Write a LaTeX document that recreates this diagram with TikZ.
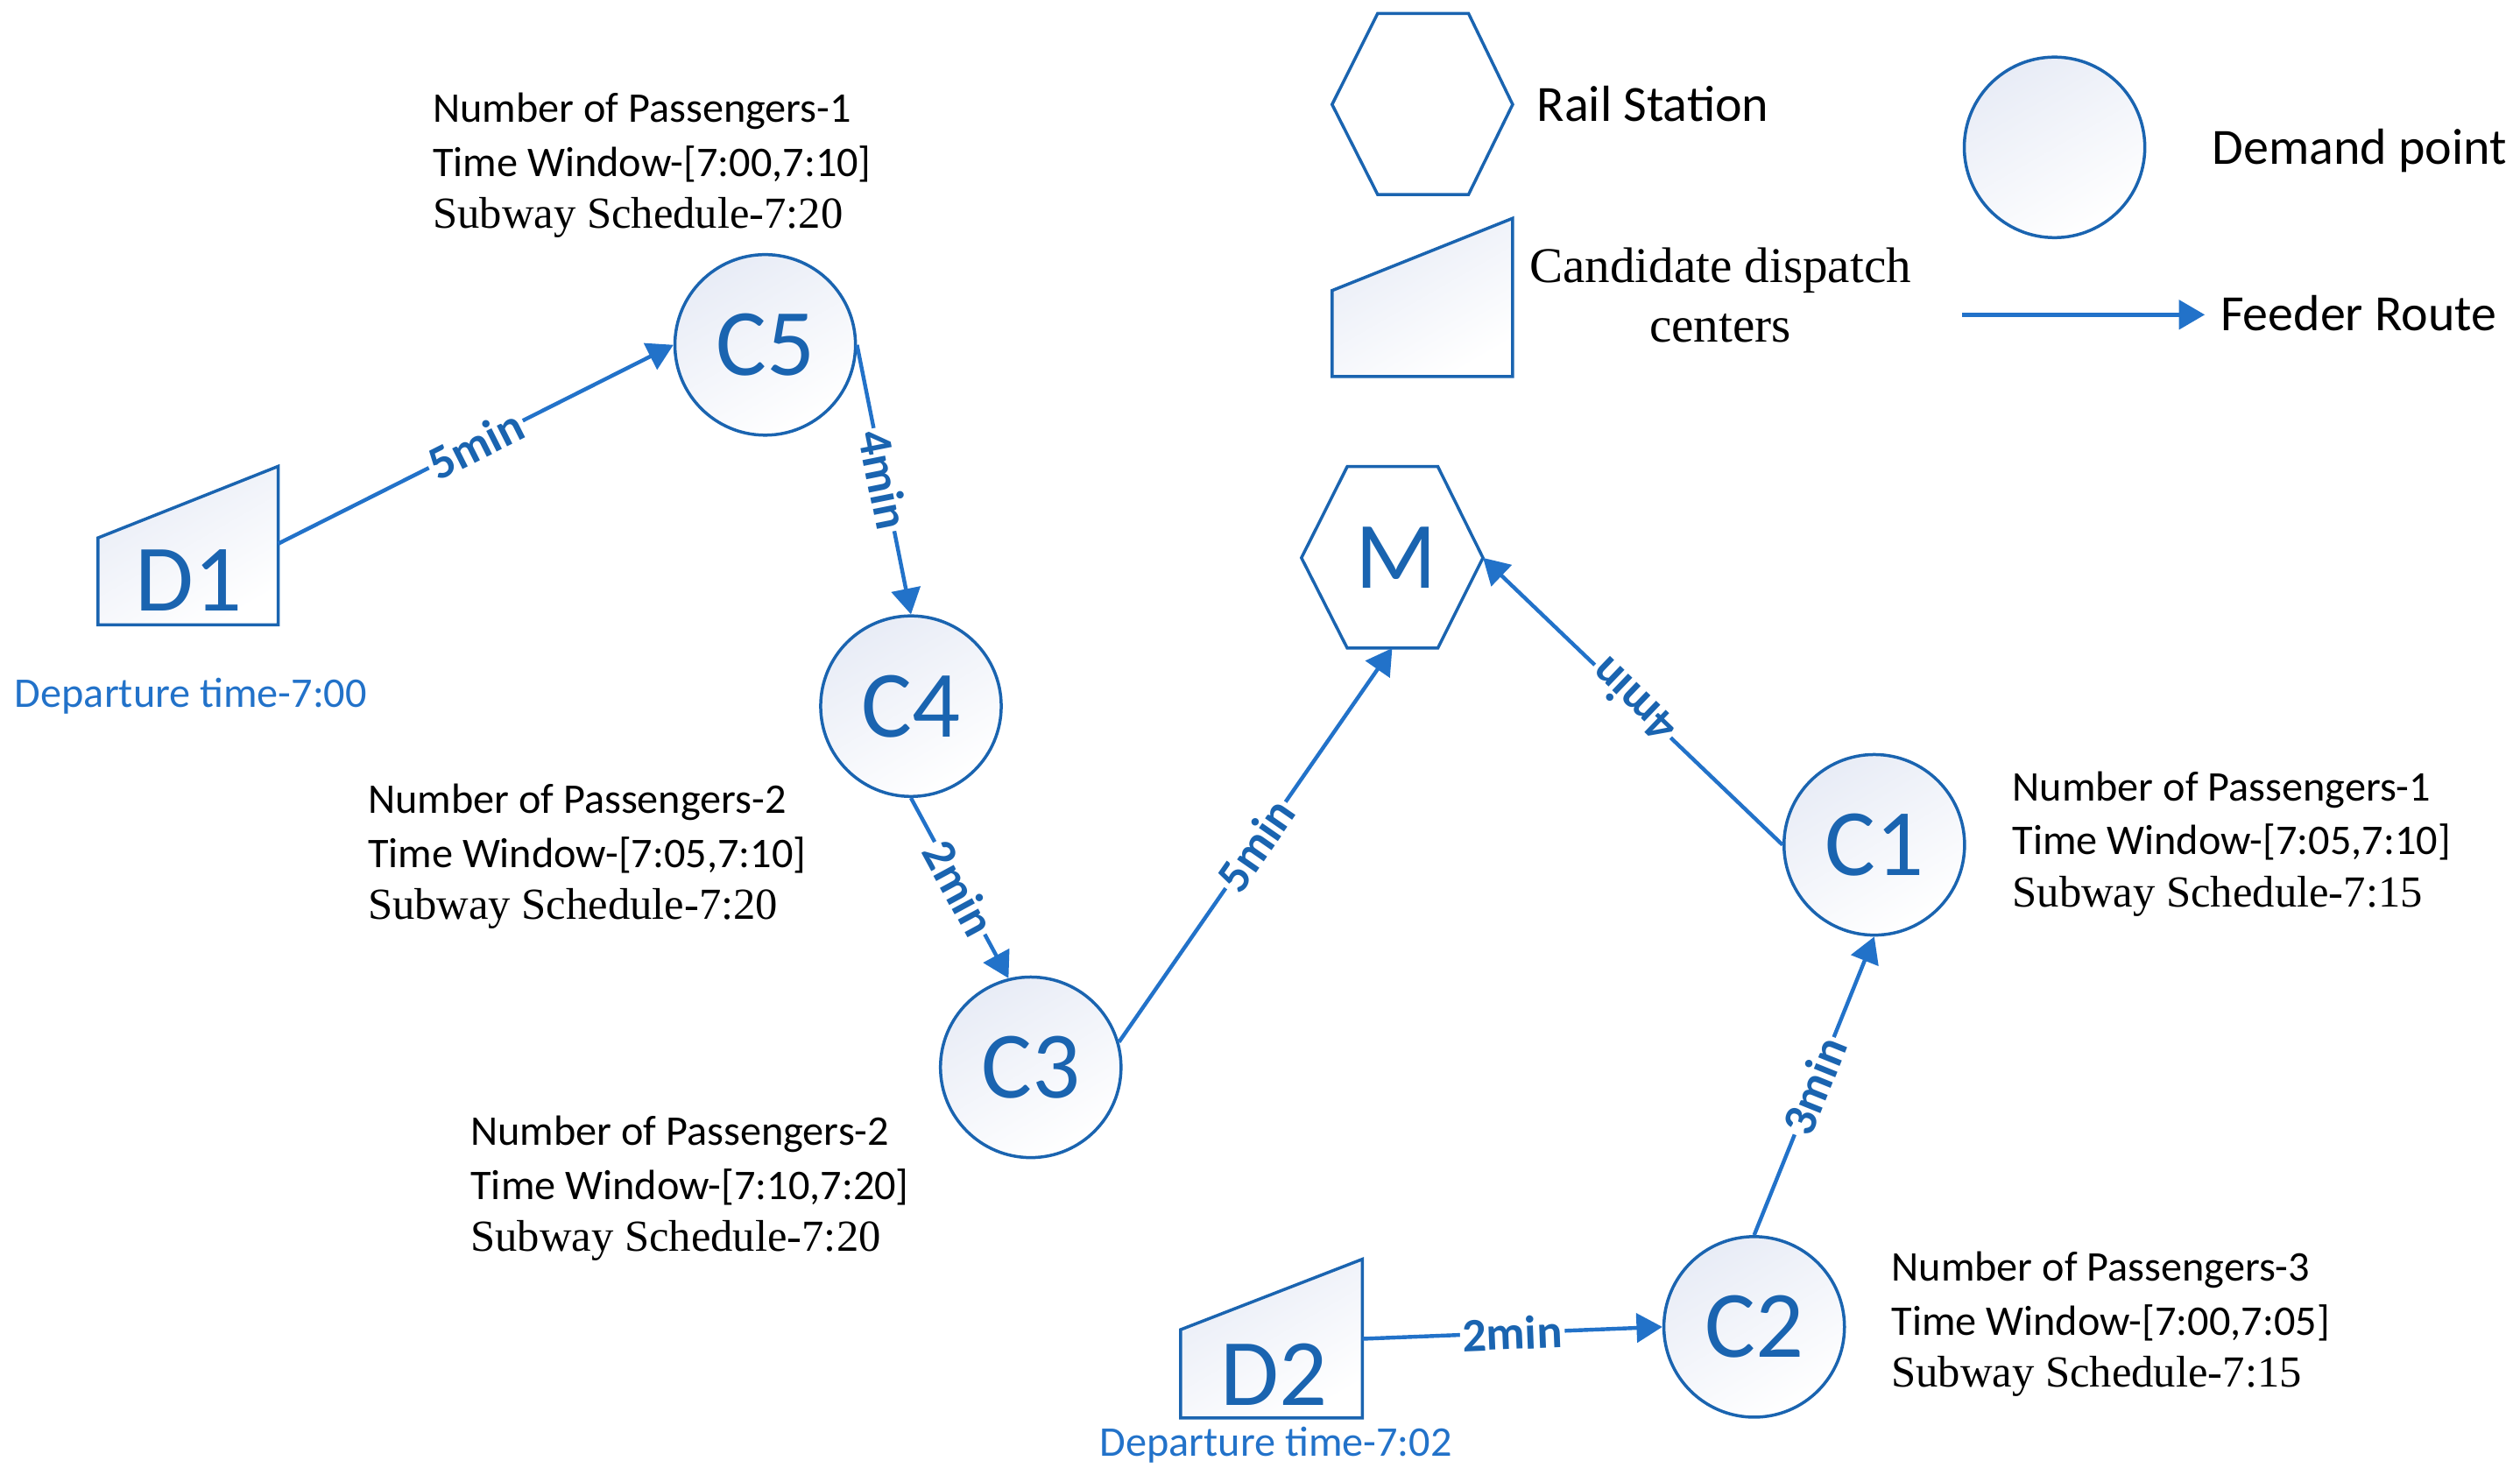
\documentclass[tikz,border=0pt]{standalone}
\usepackage{fontspec}
\setmainfont{Carlito}
\newfontfamily\tms{Liberation Serif}
\usetikzlibrary{arrows.meta}
\definecolor{nodeblue}{RGB}{26,100,176}
\definecolor{lineblue}{RGB}{34,114,201}
\definecolor{nodefill}{RGB}{232,236,246}
\tikzset{
 shapeline/.style={draw=nodeblue, line width=1.9pt, line join=miter},
 gfill/.style={top color=nodefill, bottom color=white, shading angle=30},
 demand/.style={circle, shapeline, gfill, minimum size=112pt, inner sep=0pt, text=nodeblue, font=\fontsize{59}{59}\selectfont},
 bigtxt/.style={text=nodeblue, font=\fontsize{59}{59}\selectfont, inner sep=0pt},
 route/.style={draw=lineblue, line width=2.4pt, -{Triangle[length=16pt,width=18pt]}},
 elabel/.style={sloped, fill=white, text=nodeblue, inner sep=1.5pt, font=\bfseries\fontsize{29.5}{29.5}\selectfont},
 info/.style={anchor=base west, inner sep=0pt, font=\fontsize{26.2}{26.2}\selectfont},
 infos/.style={anchor=base west, inner sep=0pt, font=\tms\fontsize{27.5}{27.5}\selectfont},
 legtxt/.style={anchor=base west, inner sep=0pt, font=\fontsize{31.5}{31.5}\selectfont},
 legtms/.style={anchor=base, inner sep=0pt, font=\tms\fontsize{31}{31}\selectfont},
 dep/.style={anchor=base west, inner sep=0pt, text=lineblue, font=\fontsize{26.2}{26.2}\selectfont},
}
\begin{document}
\begin{tikzpicture}[x=1pt,y=-1pt]
\useasboundingbox (0,0) rectangle (1563,918.7);

% ---------- legend ----------
\path[shapeline, fill=white] (854.5,8.3) -- (910.8,8.3) -- (938.2,64.8) -- (910.8,120.7) -- (854.5,120.7) -- (826.2,64.8) -- cycle;
\node[legtxt] (legrail) at (953,75.1) {Rail Station};
\path[shapeline, gfill] (826.2,233.5) -- (938.2,233.5) -- (938.2,135.4) -- (826.2,180.2) -- cycle;
\node[legtms] (legcand1) at (1067,175.2) {Candidate dispatch};
\node[legtms] (legcand2) at (1067,212) {centers};
\node[demand] (legdem) at (1274.3,91.4) {};
\node[legtxt] (legdemt) at (1372,101.6) {Demand point};
\coordinate (fr1) at (1217,195.2);
\coordinate (fr2) at (1367.5,195.2);
\draw[route] (fr1) -- (fr2);
\node[legtxt] (legfeed) at (1377,205.2) {Feeder Route};

% ---------- rail station M ----------
\path[shapeline, fill=white] (835.6,289.4) -- (891.8,289.4) -- (919.8,346) -- (891.8,402) -- (835.6,402) -- (807.2,346) -- cycle;
\node[bigtxt] (M) at (866,346) {M};
\coordinate (Me) at (919.8,346);
\coordinate (Ms) at (863.5,402);

% ---------- dispatch centers ----------
\path[shapeline, gfill] (60.8,387.5) -- (172.6,387.5) -- (172.6,289.2) -- (60.8,333.6) -- cycle;
\node[bigtxt] (D1) at (117.2,360) {D1};
\coordinate (D1e) at (172.6,337.2);
\path[shapeline, gfill] (732.3,879.5) -- (845,879.5) -- (845,781) -- (732.3,824.7) -- cycle;
\node[bigtxt] (D2) at (790,852.4) {D2};
\coordinate (D2e) at (845,830.4);

% ---------- demand points ----------
\node[demand] (C5) at (474.6,213.9) {C5};
\node[demand] (C4) at (565,438) {C4};
\node[demand] (C3) at (639.3,662) {C3};
\node[demand] (C1) at (1162.5,524) {C1};
\node[demand] (C2) at (1088,823) {C2};

% ---------- routes ----------
\draw[route] (D1e) -- node[elabel]{5min} (C5.west);
\draw[route] (C5.east) -- node[elabel]{4min} (C4.north);
\draw[route] (C4.south) -- node[elabel]{2min} (C3.104);
\draw[route] (C3.16) -- node[elabel]{5min} (Ms);
\draw[route] (C1.west) -- node[elabel, allow upside down]{4min} (Me);
\draw[route] (C2.north) -- node[elabel]{3min} (C1.south);
\draw[route] (D2e) -- node[elabel]{2min} (C2.west);

% ---------- departure times ----------
\node[dep] (dep1) at (9,438.7) {Departure time-7:00};
\node[dep] (dep2) at (682,903.3) {Departure time-7:02};

% ---------- info blocks ----------
\node[info]  (c5n) at (268.4,75.7)  {Number of Passengers-1};
\node[info]  (c5t) at (268.4,109.5) {Time Window-[7:00,7:10]};
\node[infos] (c5s) at (268.4,141.3) {Subway Schedule-7:20};

\node[info]  (c4n) at (228,504.6) {Number of Passengers-2};
\node[info]  (c4t) at (228,538.2) {Time Window-[7:05,7:10]};
\node[infos] (c4s) at (228,570.2) {Subway Schedule-7:20};

\node[info]  (c3n) at (291.8,710.4) {Number of Passengers-2};
\node[info]  (c3t) at (291.8,743.9) {Time Window-[7:10,7:20]};
\node[infos] (c3s) at (291.8,775.9) {Subway Schedule-7:20};

\node[info]  (c1n) at (1248,496.8) {Number of Passengers-1};
\node[info]  (c1t) at (1248,530.2) {Time Window-[7:05,7:10]};
\node[infos] (c1s) at (1248,562.3) {Subway Schedule-7:15};

\node[info]  (c2n) at (1173,794.6) {Number of Passengers-3};
\node[info]  (c2t) at (1173,828.4) {Time Window-[7:00,7:05]};
\node[infos] (c2s) at (1173,860.5) {Subway Schedule-7:15};
\end{tikzpicture}
\end{document}
